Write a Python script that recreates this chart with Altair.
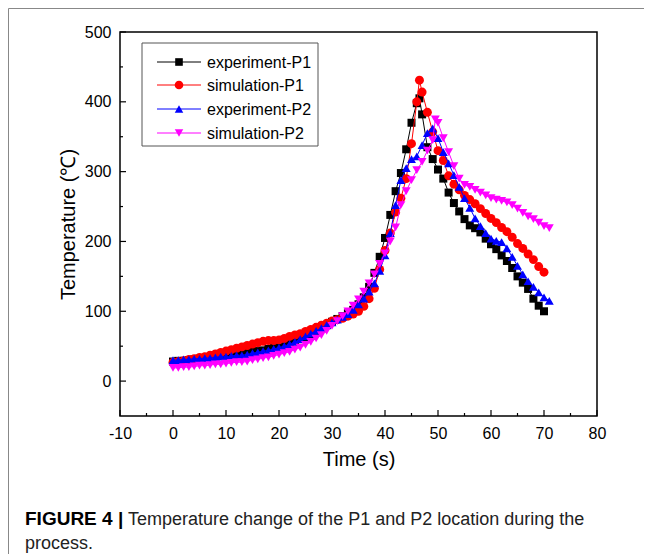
import altair as alt
import pandas as pd

# ---------------- data ----------------
exp_p1_t = list(range(0, 47)) + [46.5] + list(range(47, 71))
exp_p1_T = [28, 29, 29, 30, 31, 32, 33, 34, 35, 36,
            37, 38, 39, 40, 41, 42, 43, 44, 46, 48,
            50, 52, 54, 57, 60, 63, 67, 71, 75, 80,
            85, 89, 93, 97, 102, 110, 120, 135, 155, 178,
            205, 238, 272, 298, 332, 370, 398,
            405,
            382, 335, 318, 303, 290, 270, 255, 243, 232, 223,
            219, 213, 204, 196, 189, 180, 172, 162, 150, 141,
            132, 118, 108, 100]

sim_p1_t = list(range(0, 47)) + [46.5] + list(range(47, 71))
sim_p1_T = [27, 28, 29, 31, 32, 34, 35, 37, 39, 41,
            43, 45, 47, 49, 51, 53, 55, 57, 58, 58,
            59, 61, 64, 66, 68, 71, 74, 77, 80, 83,
            86, 88, 90, 93, 96, 100, 107, 118, 133, 160,
            187, 212, 242, 262, 290, 340, 400,
            431,
            414, 385, 357, 330, 316, 294, 282, 274, 266, 260,
            254, 247, 240, 233, 227, 220, 214, 206, 197, 190,
            182, 174, 164, 156]

exp_p2_t = list(range(0, 72))
exp_p2_T = [30, 30, 31, 31, 32, 32, 33, 33, 34, 35,
            35, 36, 37, 37, 38, 40, 41, 43, 44, 46,
            48, 50, 53, 56, 60, 64, 68, 72, 76, 80,
            84, 88, 92, 96, 102, 110, 118, 128, 140, 158,
            180, 212, 252, 288, 305, 318, 322, 338, 355, 362,
            348, 328, 312, 295, 278, 262, 248, 233, 222, 212,
            204, 201, 199, 190, 178, 165, 153, 143, 135, 127,
            120, 115]

sim_p2_t = list(range(0, 50)) + [49.5] + list(range(50, 72))
sim_p2_T = [19, 19, 20, 20, 21, 22, 22, 23, 24, 24,
            25, 26, 27, 27, 28, 30, 31, 33, 34, 36,
            38, 40, 42, 45, 48, 52, 56, 61, 66, 72,
            79, 86, 93, 100, 108, 117, 128, 140, 153, 168,
            183, 200, 220, 252, 272, 288, 302, 314, 330, 345,
            375,
            370, 348, 328, 308, 290, 281, 278, 274, 270, 266,
            262, 260, 258, 256, 252, 247, 241, 236, 232, 227,
            222, 219]

series_names = ["experiment-P1", "simulation-P1", "experiment-P2", "simulation-P2"]
series_t = [exp_p1_t, sim_p1_t, exp_p2_t, sim_p2_t]
series_T = [exp_p1_T, sim_p1_T, exp_p2_T, sim_p2_T]
series_colors = ["#000000", "#ff0000", "#0000ff", "#ff00ff"]
series_shapes = ["square", "circle", "triangle-up", "triangle-down"]
series_sizes = [64, 80, 80, 80]

x_ticks = list(range(-10, 81, 10))
x_minor = list(range(-5, 80, 10))
y_ticks = list(range(0, 501, 100))
y_minor = list(range(50, 500, 100))

x_title = "Time (s)"
y_title = "Temperature (℃)"
caption_bold = "FIGURE 4 |"
caption_1 = "Temperature change of the P1 and P2 location during the"
caption_2 = "process."

# ---------------- layout ----------------
W, H = 477, 384
FONT = "Liberation Sans"

xscale = alt.Scale(domain=[-10, 80], nice=False, zero=False)
yscale = alt.Scale(domain=[-50, 500], nice=False, zero=False)

xaxis = alt.Axis(values=x_ticks, ticks=False, domain=False, grid=False,
                 labelExpr="'' + datum.value",
                 labelFont=FONT, labelFontSize=16, labelColor="black", labelPadding=9,
                 titleFont=FONT, titleFontSize=20, titleFontWeight="normal",
                 titleColor="black", titlePadding=8, labelFlush=False)
yaxis = alt.Axis(values=y_ticks, ticks=False, domain=False, grid=False,
                 labelExpr="'' + datum.value",
                 labelFont=FONT, labelFontSize=16, labelColor="black", labelPadding=9,
                 titleFont=FONT, titleFontSize=20, titleFontWeight="normal",
                 titleColor="black", titlePadding=6, labelFlush=False)

layers = []
for name, ts, Ts, col, shp, sz in zip(series_names, series_t, series_T,
                                      series_colors, series_shapes, series_sizes):
    df = pd.DataFrame({"t": ts, "T": Ts, "series": name})
    xenc = alt.X("t:Q", scale=xscale, axis=xaxis, title=x_title)
    yenc = alt.Y("T:Q", scale=yscale, axis=yaxis, title=y_title)
    line = alt.Chart(df).mark_line(color=col, strokeWidth=1).encode(x=xenc, y=yenc)
    pts = alt.Chart(df).mark_point(filled=True, shape=shp, size=sz, color=col,
                                   opacity=1, strokeWidth=0).encode(x=xenc, y=yenc)
    layers += [line, pts]

# inward ticks
def xt(vals, length):
    return alt.Chart(pd.DataFrame({"t": vals})).mark_rule(color="black", strokeWidth=1.2).encode(
        x=alt.X("t:Q", scale=xscale, axis=xaxis, title=x_title),
        y=alt.value(H), y2=alt.value(H - length))

def yt(vals, length):
    return alt.Chart(pd.DataFrame({"T": vals})).mark_rule(color="black", strokeWidth=1.2).encode(
        y=alt.Y("T:Q", scale=yscale, axis=yaxis, title=y_title),
        x=alt.value(0), x2=alt.value(length))

layers += [xt(x_ticks, 6), xt(x_minor, 3), yt(y_ticks, 6), yt(y_minor, 3)]

one = pd.DataFrame({"a": [0]})

# legend
layers.append(alt.Chart(one).mark_rect(fill="white", stroke="#555555", strokeWidth=1).encode(
    x=alt.value(22), x2=alt.value(198), y=alt.value(11), y2=alt.value(114)))
rows = [30, 53, 77, 101]
legend_sizes = [58, 75, 72, 72]
for name, col, shp, sz, ry in zip(series_names, series_colors, series_shapes, legend_sizes, rows):
    layers.append(alt.Chart(one).mark_rule(color=col, strokeWidth=1).encode(
        x=alt.value(37), x2=alt.value(81), y=alt.value(ry)))
    layers.append(alt.Chart(one).mark_point(filled=True, shape=shp, size=sz, color=col,
                                            opacity=1, strokeWidth=0).encode(
        x=alt.value(59), y=alt.value(ry)))
    layers.append(alt.Chart(one).mark_text(text=name, font=FONT, fontSize=16, color="black",
                                           align="left", baseline="middle").encode(
        x=alt.value(87), y=alt.value(ry + 1)))

# caption
layers.append(alt.Chart(one).mark_text(text=caption_bold, font=FONT, fontSize=19, fontWeight="bold",
                                       color="black", align="left", baseline="alphabetic").encode(
    x=alt.value(-95), y=alt.value(493)))
layers.append(alt.Chart(one).mark_text(text=caption_1, font=FONT, fontSize=18, color="#222222",
                                       align="left", baseline="alphabetic").encode(
    x=alt.value(8), y=alt.value(493)))
layers.append(alt.Chart(one).mark_text(text=caption_2, font=FONT, fontSize=18, color="#222222",
                                       align="left", baseline="alphabetic").encode(
    x=alt.value(-95), y=alt.value(517)))

# outer frame lines (top and left)
layers.append(alt.Chart(one).mark_rule(color="#888888", strokeWidth=1).encode(
    x=alt.value(-111.5), x2=alt.value(530), y=alt.value(-23.5)))
layers.append(alt.Chart(one).mark_rule(color="#888888", strokeWidth=1).encode(
    x=alt.value(-111.5), y=alt.value(-23.5), y2=alt.value(530)))

chart = alt.layer(*layers).properties(
    width=W, height=H,
    autosize=alt.AutoSizeParams(type="none"),
    padding={"left": 112, "top": 24, "right": 47, "bottom": 138},
    background="white",
).configure_view(stroke="black", strokeWidth=1.5)

chart.save("out.html", embed_options={"renderer": "svg", "actions": False})
